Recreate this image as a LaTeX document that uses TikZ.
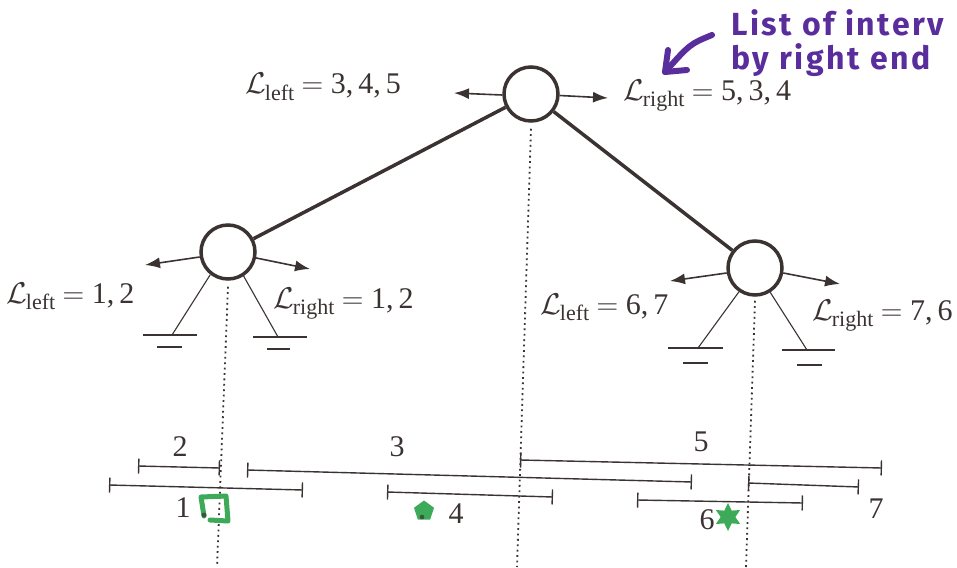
\RequirePackage{fix-cm}
\documentclass[tikz,border=0pt]{standalone}
\usepackage{fontspec}
\setmainfont{Liberation Serif}
\usetikzlibrary{shapes.geometric,arrows.meta}
\newfontfamily\handfont[LetterSpace=8]{Fira Sans}
\definecolor{inkc}{HTML}{3B3232}
\definecolor{penpurple}{HTML}{5A2D9C}
\definecolor{pengreen}{HTML}{3DAA5A}
\newcommand\Lsub[1]{$\mathcal{L}$\kern-1pt\raisebox{-0.22em}{\fontsize{22}{24}\selectfont #1}}
\begin{document}
\begin{tikzpicture}[x=1pt,y=-1pt,
  treenode/.style={circle,draw=inkc,line width=3.5pt,minimum size=54pt,inner sep=0pt,fill=white},
  treeedge/.style={draw=inkc,line width=3.5pt},
  ptr/.style={draw=inkc,line width=1.6pt,-{Latex[length=15pt,width=11pt]}},
  legline/.style={draw=inkc,line width=1.1pt},
  gndline/.style={draw=inkc,line width=1.6pt},
  guide/.style={draw=inkc,line width=1.8pt,dash pattern=on 1.8pt off 3.6pt},
  ival/.style={draw=inkc,line width=1.4pt,{Bar[width=15pt,line width=1.4pt]}-{Bar[width=15pt,line width=1.4pt]}},
  lab/.style={font=\fontsize{30}{36}\selectfont,inner sep=0pt,text=inkc,anchor=base west},
  num/.style={font=\fontsize{30}{36}\selectfont,inner sep=0pt,text=inkc},
  hand/.style={font=\handfont\bfseries\fontsize{32}{34}\selectfont,text=penpurple,inner sep=0pt,anchor=base west,align=left},
]
\useasboundingbox (0,0) rectangle (957,567);
\clip (0,0) rectangle (957,567);

% dotted guides
\coordinate (gr) at (517,567);
\coordinate (gl) at (217,567);
\coordinate (gq) at (746,567);

% tree nodes
\node[treenode] (root) at (531,94) {};
\node[treenode] (lc) at (228,252) {};
\node[treenode] (rc) at (755,268) {};

\draw[guide] (root.south) ++(0,6) coordinate (rs) (rs) -- (gr);
\draw[guide] (lc.south) ++(0,6) coordinate (ls) (ls) -- (gl);
\draw[guide] (rc.south) ++(0,4) coordinate (qs) (qs) -- (gq);

\draw[treeedge] (root) -- (lc);
\draw[treeedge] (root) -- (rc);

% pointer arrows
\coordinate (rootL) at (454,93);
\coordinate (rootR) at (608,98);
\coordinate (lcL) at (145,265);
\coordinate (lcR) at (310,269);
\coordinate (rcL) at (670,281);
\coordinate (rcR) at (840,284);
\draw[ptr] (root.182) -- (rootL);
\draw[ptr] (root.-3) -- (rootR);
\draw[ptr] (lc.190) -- (lcL);
\draw[ptr] (lc.-12) -- (lcR);
\draw[ptr] (rc.190) -- (rcL);
\draw[ptr] (rc.-10) -- (rcR);

% grounded null children
\coordinate (lg1) at (172,335);
\coordinate (lg2) at (278,337);
\coordinate (rg1) at (698,348);
\coordinate (rg2) at (807,350);
\draw[legline] (lc.232) -- (lg1);
\draw[legline] (lc.303) -- (lg2);
\draw[legline] (rc.236) -- (rg1);
\draw[legline] (rc.302) -- (rg2);
\draw[gndline] (143,335) -- (197,335) (157,347) -- (182,347);
\draw[gndline] (253,337) -- (307,337) (267,349) -- (290,349);
\draw[gndline] (668,348) -- (723,348) (683,363) -- (708,363);
\draw[gndline] (782,350) -- (835,350) (797,365) -- (822,365);

% labels
\node[lab] (tRootL) at (245,94) {\Lsub{left} $=$ 3,\,4,\,5};
\node[lab] (tRootR) at (623,100) {\Lsub{right} $=$ 5,\,3,\,4};
\node[lab] (tLcL) at (6,303) {\Lsub{left} $=$ 1,\,2};
\node[lab] (tLcR) at (273,308) {\Lsub{right} $=$ 1,\,2};
\node[lab] (tRcL) at (540,314) {\Lsub{left} $=$ 6,\,7};
\node[lab] (tRcR) at (812,320) {\Lsub{right} $=$ 7,\,6};

% intervals
\draw[ival] (109,485) -- (303,490);
\draw[ival] (138,466) -- (220,468);
\draw[ival] (247,470) -- (692,482);
\draw[ival] (387,492) -- (553,497);
\draw[ival] (520,460) -- (882,468);
\draw[ival] (637,500) -- (803,503);
\draw[ival] (748,483) -- (859,487);

\node[num] (n1) at (183,508) {1};
\node[num] (n2) at (180,447) {2};
\node[num] (n3) at (397,447) {3};
\node[num] (n4) at (456,514) {4};
\node[num] (n5) at (701,442) {5};
\node[num] (n6) at (707,520) {6};
\node[num] (n7) at (876,509) {7};

% green marks
\draw[pengreen,line width=5pt,line cap=round,line join=round] (204,516) -- (201,497) -- (226,496) -- (228,521) -- (210,520);
\fill[inkc!70!pengreen] (204,515) circle (2.5pt);
\node[regular polygon,regular polygon sides=5,fill=pengreen,minimum size=21pt,inner sep=0pt] (g4) at (424,511) {};
\fill[inkc!70!pengreen] (422,517) circle (2.3pt);
\node[star,star points=6,star point ratio=1.9,fill=pengreen,minimum size=28pt,inner sep=0pt] (g6) at (728,517) {};

% handwritten annotation
\node[hand] (note) at (731,70) {List of interv\\by right end};
\coordinate (pa0) at (712,35);
\coordinate (pa1) at (665,72);
\coordinate (pa2) at (668,50);
\coordinate (pa3) at (687,70);
\draw[penpurple,line width=6pt,line cap=round,line join=round] (pa0) .. controls (690,44) .. (pa1);
\draw[penpurple,line width=6pt,line cap=round,line join=round] (pa2) -- (pa1) -- (pa3);
\end{tikzpicture}
\end{document}
